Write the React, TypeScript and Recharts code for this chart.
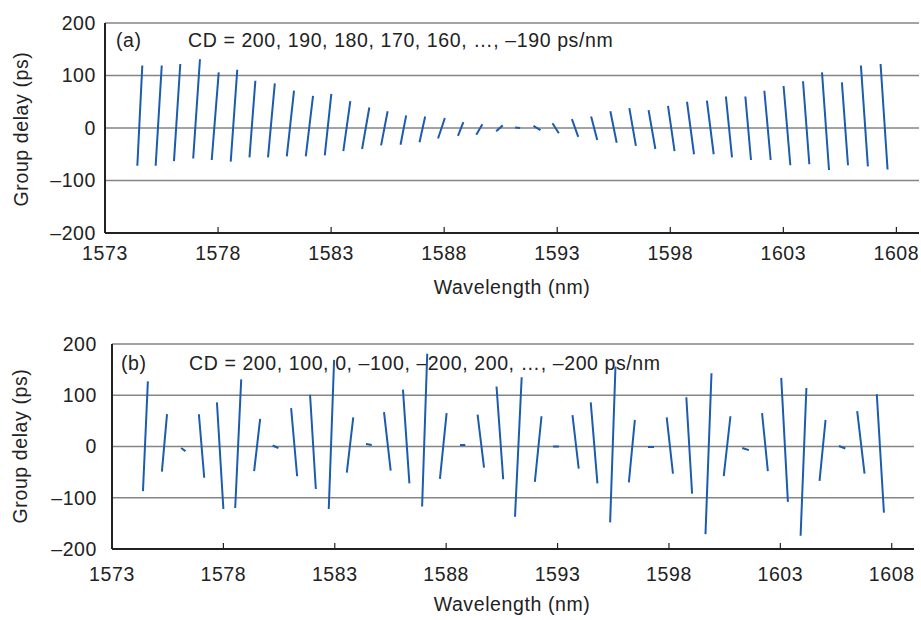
import React from 'react';
import { LineChart, Line, XAxis, YAxis, CartesianGrid } from 'recharts';

const WL_TICKS = [1573, 1578, 1583, 1588, 1593, 1598, 1603, 1608];
const GD_TICKS = [-200, -100, 0, 100, 200];

// panel (a): CD = 200 ... -190 ps/nm, one short trace per channel (left end -> right end)
const aStartWl = [
  1574.43, 1575.24, 1576.05, 1576.9, 1577.72, 1578.56, 1579.39, 1580.21, 1581.04, 1581.88,
  1582.72, 1583.54, 1584.37, 1585.21, 1586.07, 1586.91, 1587.73, 1588.61, 1589.42, 1590.3,
  1591.14, 1591.95, 1592.79, 1593.65, 1594.5, 1595.35, 1596.19, 1597.04, 1597.9, 1598.74,
  1599.62, 1600.46, 1601.32, 1602.16, 1603.01, 1603.87, 1604.71, 1605.59, 1606.43, 1607.3,
];
const aStartGd = [
  -72, -72, -63, -58, -61, -64, -56, -56, -54, -54,
  -52, -44, -40, -33, -32, -27, -20, -15, -13, -6,
  1, 4, 9, 17, 22, 32, 38, 34, 42, 50,
  52, 60, 60, 71, 80, 89, 106, 87, 119, 122,
];
const aEndWl = [
  1574.65, 1575.51, 1576.33, 1577.2, 1578.03, 1578.85, 1579.65, 1580.51, 1581.36, 1582.2,
  1583.01, 1583.85, 1584.69, 1585.5, 1586.32, 1587.16, 1588.03, 1588.85, 1589.69, 1590.59,
  1591.36, 1592.26, 1593.07, 1593.93, 1594.77, 1595.63, 1596.48, 1597.34, 1598.19, 1599.05,
  1599.92, 1600.73, 1601.57, 1602.44, 1603.31, 1604.15, 1605.02, 1605.86, 1606.74, 1607.61,
];
const aEndGd = [
  119, 119, 122, 131, 106, 111, 90, 85, 71, 61,
  65, 51, 39, 32, 24, 22, 19, 11, 7, 5,
  0, -4, -10, -17, -23, -28, -34, -40, -44, -50,
  -50, -56, -61, -61, -71, -69, -80, -71, -73, -79,
];

// panel (b): CD = 200, 100, 0, -100, -200 repeated
const bStartWl = [
  1574.39, 1575.24, 1576.1, 1576.9, 1577.71, 1578.53, 1579.38, 1580.21, 1581.04, 1581.89,
  1582.73, 1583.54, 1584.4, 1585.21, 1586.06, 1586.92, 1587.72, 1588.62, 1589.41, 1590.26,
  1591.09, 1591.98, 1592.8, 1593.67, 1594.49, 1595.36, 1596.2, 1597.06, 1597.9, 1598.78,
  1599.64, 1600.46, 1601.29, 1602.18, 1603.04, 1603.91, 1604.76, 1605.63, 1606.45, 1607.33,
];
const bStartGd = [
  -87, -49, -3, 63, 86, -120, -48, 2, 75, 101,
  -122, -51, 5, 67, 111, -117, -63, 3, 62, 117,
  -137, -69, 0, 61, 86, -148, -70, -1, 57, 96,
  -171, -58, -3, 65, 134, -174, -67, 1, 69, 102,
];
const bEndWl = [
  1574.61, 1575.47, 1576.3, 1577.14, 1578.0, 1578.8, 1579.65, 1580.47, 1581.31, 1582.15,
  1582.97, 1583.83, 1584.66, 1585.51, 1586.35, 1587.15, 1588.02, 1588.86, 1589.7, 1590.56,
  1591.39, 1592.28, 1593.06, 1593.95, 1594.79, 1595.6, 1596.47, 1597.33, 1598.18, 1599.04,
  1599.91, 1600.76, 1601.59, 1602.44, 1603.34, 1604.17, 1605.03, 1605.92, 1606.78, 1607.65,
];
const bEndGd = [
  127, 63, -9, -61, -122, 131, 54, -3, -58, -83,
  169, 57, 3, -47, -72, 181, 65, 3, -41, -64,
  135, 59, 0, -43, -72, 156, 52, -1, -53, -92,
  143, 59, -7, -48, -108, 114, 52, -4, -53, -129,
];

const BLUE = '#1b5cae';
const FONT = '"Liberation Sans", Arial, Helvetica, sans-serif';
const INK = '#222';
const FS = 19.5;
const LS = 0.6;

// null rows break the line between channels
const toTraces = (sWl: number[], sGd: number[], eWl: number[], eGd: number[]) => {
  const rows: { wl: number; gd: number | null }[] = [];
  sWl.forEach((w, i) => {
    rows.push({ wl: w, gd: sGd[i] });
    rows.push({ wl: eWl[i], gd: eGd[i] });
    rows.push({ wl: eWl[i], gd: null });
  });
  return rows;
};

const fmt = (v: number) => (v < 0 ? `–${-v}` : `${v}`);

const XTick = (props: any) => {
  const { x, y, payload, off } = props;
  return (
    <g>
      <line x1={x} x2={x} y1={y} y2={y - 6} stroke={INK} strokeWidth={1.2} />
      <text x={x} y={y + off} textAnchor="middle" fill={INK} fontSize={FS} letterSpacing={LS} fontFamily={FONT}>
        {payload.value}
      </text>
    </g>
  );
};

interface PanelProps {
  top: number;
  data: { wl: number; gd: number | null }[];
  axisWidth: number;
  rightGap: number;
  marginTop: number;
  marginBottom: number;
  yLabelGap: number;
  xLabelOff: number;
}

const Panel: React.FC<PanelProps> = ({ top, data, axisWidth, rightGap, marginTop, marginBottom, yLabelGap, xLabelOff }) => (
  <div style={{ position: 'absolute', left: 0, top, width: 921, height: 300 }}>
    <LineChart width={921} height={300} data={data} margin={{ top: marginTop, right: rightGap, bottom: marginBottom, left: 0 }}>
      <CartesianGrid vertical={false} stroke="#858585" strokeWidth={1.6} yAxisId="y" xAxisId="x" />
      <XAxis
        xAxisId="x"
        dataKey="wl"
        type="number"
        domain={[1573, 1609]}
        ticks={WL_TICKS}
        allowDataOverflow
        height={40}
        tickSize={0}
        tickMargin={0}
        tickLine={false}
        axisLine={{ stroke: INK, strokeWidth: 2 }}
        tick={(p: any) => <XTick {...p} off={xLabelOff} />}
      />
      <XAxis xAxisId="t" orientation="top" type="number" domain={[1573, 1609]} height={0} tick={false} tickLine={false} axisLine={{ stroke: INK, strokeWidth: 2 }} />
      <YAxis
        yAxisId="y"
        type="number"
        domain={[-200, 200]}
        ticks={GD_TICKS}
        width={axisWidth}
        tickSize={0}
        tickMargin={yLabelGap}
        tickLine={false}
        tickFormatter={fmt}
        axisLine={{ stroke: INK, strokeWidth: 2 }}
        tick={{ fill: INK, fontSize: FS, fontFamily: FONT, letterSpacing: LS }}
      />
      <YAxis yAxisId="r" orientation="right" type="number" domain={[-200, 200]} width={0} tick={false} tickLine={false} axisLine={{ stroke: '#444', strokeWidth: 1.5 }} />
      <Line
        xAxisId="x"
        yAxisId="y"
        dataKey="gd"
        stroke={BLUE}
        strokeWidth={2}
        dot={false}
        connectNulls={false}
        isAnimationActive={false}
      />
    </LineChart>
  </div>
);

const txt = (left: number, top: number, s: string, extra: React.CSSProperties = {}) => (
  <div style={{ position: 'absolute', left, top, fontSize: FS, letterSpacing: LS, lineHeight: '20px', color: INK, fontFamily: FONT, whiteSpace: 'nowrap', ...extra }}>
    {s}
  </div>
);

const yTitle = (cx: number, cy: number) =>
  txt(cx - 100, cy - 10, 'Group delay (ps)', { width: 200, textAlign: 'center', transform: 'rotate(-90deg)' });

export default function App() {
  const dataA = toTraces(aStartWl, aStartGd, aEndWl, aEndGd);
  const dataB = toTraces(bStartWl, bStartGd, bEndWl, bEndGd);
  return (
    <div style={{ position: 'absolute', left: 0, top: 0, width: 921, height: 620, background: '#fff', overflow: 'hidden' }}>
      {txt(116, 30, '(a)')}
      {txt(188, 30, 'CD = 200, 190, 180, 170, 160, …, –190 ps/nm')}
      {txt(121, 353, '(b)')}
      {txt(189, 353, 'CD = 200, 100, 0, –100, –200, 200, …, –200 ps/nm')}
      {yTitle(20.6, 128.5)}
      {yTitle(20.3, 446)}
      {txt(312, 277, 'Wavelength (nm)', { width: 400, textAlign: 'center' })}
      {txt(312, 594, 'Wavelength (nm)', { width: 400, textAlign: 'center' })}
      <Panel top={0} data={dataA} axisWidth={105} rightGap={2} marginTop={23} marginBottom={27} yLabelGap={9} xLabelOff={27} />
      <Panel top={320} data={dataB} axisWidth={112} rightGap={7} marginTop={24} marginBottom={31} yLabelGap={15} xLabelOff={32} />
    </div>
  );
}
